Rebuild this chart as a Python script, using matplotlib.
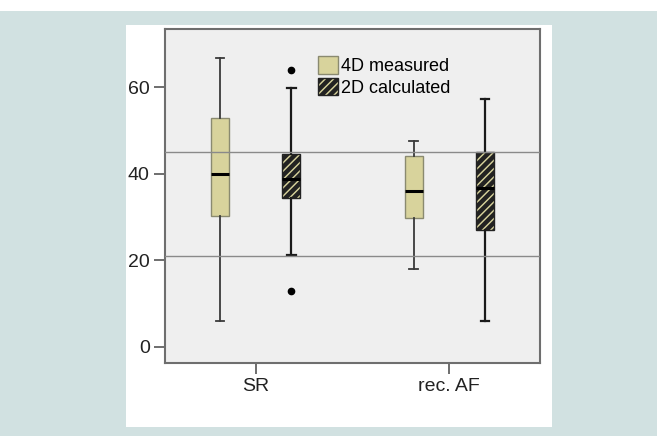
import matplotlib
matplotlib.use("Agg")
import matplotlib.pyplot as plt
from matplotlib.patches import Patch

plt.rcParams['font.family'] = ['Liberation Sans', 'DejaVu Sans']
plt.rcParams['hatch.linewidth'] = 3.2

# groups and series
groups = ['SR', 'rec. AF']
series = ['4D measured', '2D calculated']

# box stats per group: [4D, 2D]
whislo = [[5.9, 21.3], [17.9, 5.9]]
q1 = [[30.2, 34.3], [29.7, 27.0]]
med = [[40.0, 38.7], [35.9, 36.6]]
q3 = [[52.8, 44.5], [44.0, 45.0]]
whishi = [[66.8, 59.9], [47.5, 57.3]]
fliers = [[[], [64.0, 12.9]], [[], []]]

ref_lines = [45, 21]
yticks = [0, 20, 40, 60]

khaki = '#d8d39c'
dark = '#222222'

fig = plt.figure(figsize=(6.57, 4.36), dpi=100)
fig.patch.set_facecolor('white')
# teal frame around the white panel
fig.add_artist(plt.Rectangle((0, 0), 1, 1 - 11 / 436, transform=fig.transFigure,
                             facecolor='#d1e1e1', edgecolor='none', zorder=-3))
fig.add_artist(plt.Rectangle((126 / 657, 9 / 436), (552 - 126) / 657, (411 - 9) / 436,
                             transform=fig.transFigure, facecolor='white',
                             edgecolor='none', zorder=-2))

ax = fig.add_axes([165 / 657, (436 - 363) / 436, (540 - 165) / 657, (363 - 29) / 436])
ax.set_facecolor('#efefef')

offset = 0.184
width = 0.093
for gi, g in enumerate(groups):
    stats = []
    for si in range(2):
        stats.append(dict(med=med[gi][si], q1=q1[gi][si], q3=q3[gi][si],
                          whislo=whislo[gi][si], whishi=whishi[gi][si],
                          fliers=fliers[gi][si]))
    pos = [gi + 1 - offset, gi + 1 + offset]
    bp = ax.bxp(stats, positions=pos, widths=width, patch_artist=True,
                showfliers=True, capwidths=0.045,
                whiskerprops=dict(color='#3a3a3a', lw=1.3),
                capprops=dict(color='#3a3a3a', lw=1.3),
                medianprops=dict(color='black', lw=2.2),
                flierprops=dict(marker='o', markerfacecolor='black',
                                markeredgecolor='black', markersize=4.5))
    bp['boxes'][0].set_facecolor(khaki)
    bp['boxes'][0].set_edgecolor('#8a8a70')
    bp['boxes'][1].set_facecolor(khaki)
    bp['boxes'][1].set_edgecolor(dark)
    bp['boxes'][1].set_hatch('////')
    # darker whiskers on the hatched series
    for ln in bp['whiskers'][2:] + bp['caps'][2:]:
        ln.set_color('#1a1a1a')
        ln.set_linewidth(1.6)

for y in ref_lines:
    ax.axhline(y, color='#8a8a8a', lw=1.0, zorder=5)

ax.set_xlim(0.532, 2.468)
ax.set_ylim(-3.8, 73.5)
ax.set_xticks([1, 2])
ax.set_xticklabels(groups, fontsize=14, color='#222222')
ax.set_yticks(yticks)
ax.set_yticklabels([str(t) for t in yticks], fontsize=14, color='#222222')
ax.tick_params(axis='both', length=8, width=1.2, color='#555555', pad=3)
for s in ax.spines.values():
    s.set_color('#6e6e6e')
    s.set_linewidth(1.5)

handles = [Patch(facecolor=khaki, edgecolor='#8a8a70'),
           Patch(facecolor=khaki, edgecolor=dark, hatch='////')]
ax.legend(handles, series, loc='upper left', bbox_to_anchor=(0.385, 0.945),
          frameon=False, fontsize=13, borderpad=0, handlelength=1.1,
          handleheight=1.1, handletextpad=0.15, labelspacing=0.15)

fig.savefig('out.png', dpi=100)
